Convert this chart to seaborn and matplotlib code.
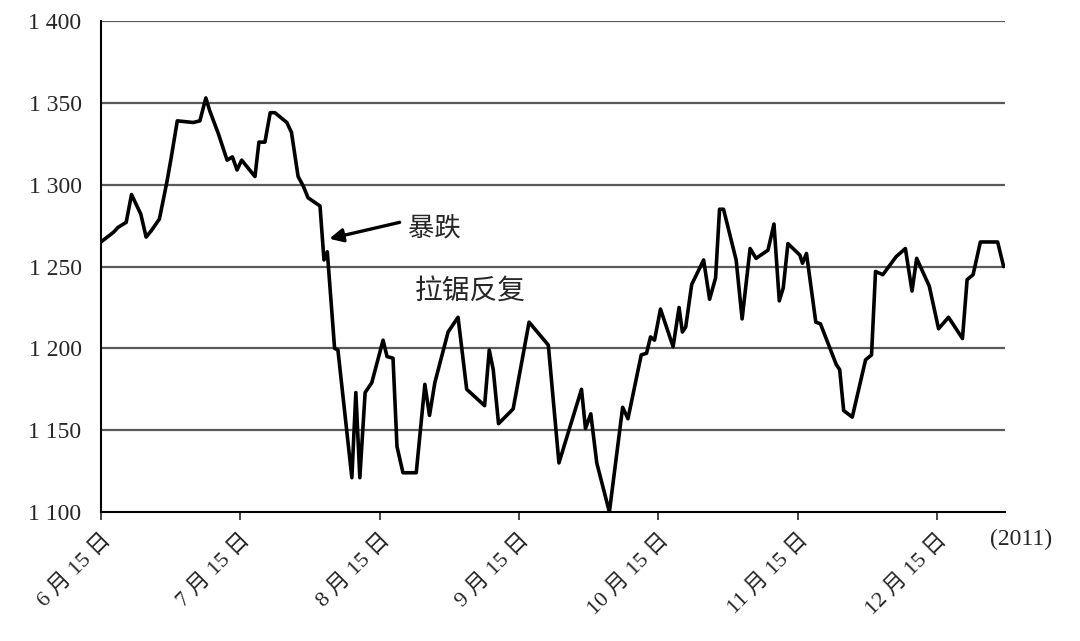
import matplotlib
matplotlib.use("Agg")
import matplotlib.pyplot as plt
import pandas as pd
import seaborn as sns

# trading-day position (0 = 6月15日, 21 days per label) and index level
days = [0, 1.9, 2.6, 3.8, 4.6, 6.0, 6.8, 7.6, 8.8, 9.9, 10.6, 11.5, 13.9, 14.9, 15.8,
        16.4, 17.7, 19.0, 19.8, 20.5, 21.2, 23.2, 23.8, 24.7, 25.5, 26.2, 28.0, 28.7,
        29.7, 30.5, 31.2, 33.0, 33.6, 34.1, 35.2, 35.7, 37.8, 38.4, 39.0, 39.8, 40.8,
        42.5, 43.1, 44.0, 44.6, 45.5, 47.5, 48.8, 49.5, 50.3, 52.3, 53.8, 55.1, 57.8,
        58.5, 59.1, 59.9, 62.1, 64.5, 67.4, 69.0, 72.4, 73.0, 73.8, 74.7, 76.6, 78.6,
        79.4, 81.4, 82.2, 82.8, 83.4, 84.3, 86.2, 87.1, 87.6, 88.1, 89.0, 90.8, 91.7,
        92.6, 93.2, 93.8, 95.7, 96.6, 97.8, 98.7, 100.5, 101.4, 102.2, 102.8, 103.5,
        105.3, 105.7, 106.3, 107.7, 108.4, 110.8, 111.3, 111.9, 113.2, 115.2, 116.1,
        116.7, 117.8, 119.8, 121.2, 122.2, 122.9, 124.8, 126.2, 127.7, 129.8, 130.5,
        131.4, 132.5, 135.1, 136.0]
level = [1265, 1271, 1274, 1277, 1294, 1282, 1268, 1272, 1279, 1301, 1317, 1339, 1338,
         1339, 1353, 1345, 1331, 1315, 1317, 1309, 1315, 1305, 1326, 1326, 1344, 1344,
         1338, 1332, 1305, 1299, 1292, 1287, 1254, 1259, 1200, 1199, 1121, 1173, 1121,
         1173, 1179, 1205, 1195, 1194, 1140, 1124, 1124, 1178, 1159, 1179, 1210, 1219,
         1175, 1165, 1199, 1187, 1154, 1163, 1216, 1202, 1130, 1175, 1151, 1160, 1130,
         1100, 1164, 1157, 1196, 1197, 1207, 1205, 1224, 1201, 1225, 1210, 1213, 1239,
         1254, 1230, 1243, 1285, 1285, 1254, 1218, 1261, 1255, 1260, 1276, 1229, 1237,
         1264, 1257, 1252, 1258, 1216, 1215, 1190, 1187, 1162, 1158, 1193, 1196, 1247,
         1245, 1256, 1261, 1235, 1255, 1238, 1212, 1219, 1206, 1242, 1245, 1265, 1265,
         1250]

tick_pos = [0, 21, 42, 63, 84, 105, 126]
tick_labels = ["6 月 15 日", "7 月 15 日", "8 月 15 日", "9 月 15 日",
               "10 月 15 日", "11 月 15 日", "12 月 15 日"]
y_ticks = [1100, 1150, 1200, 1250, 1300, 1350, 1400]

df = pd.DataFrame({"day": days, "level": level})

sns.set_style("white")
plt.rcParams["font.family"] = ["Liberation Serif", "Noto Sans CJK SC", "DejaVu Sans"]

fig = plt.figure(figsize=(10.8, 6.41), dpi=100)
ax = fig.add_axes([0.0935, 0.2012, 0.8370, 0.7660])

for y in y_ticks[1:]:
    ax.axhline(y, color="#5a5a5a", lw=1.6, zorder=1)

sns.lineplot(x="day", y="level", data=df, color="black", lw=2.6, ax=ax,
             estimator=None, sort=False, zorder=3)

ax.set_xlim(0, 136.2)
ax.set_ylim(1100, 1400)
ax.set_xticks(tick_pos)
ax.set_xticklabels(tick_labels, rotation=45, ha="right", rotation_mode="anchor")
ax.set_yticks(y_ticks)
ax.set_yticklabels([f"{v // 1000} {v % 1000:03d}" for v in y_ticks])
ax.tick_params(axis="y", direction="inout", length=8, width=1.2, labelsize=17, pad=10)
ax.tick_params(axis="x", direction="out", length=6, width=1.2, labelsize=16, pad=7,
               bottom=True)
ax.set_xlabel("")
ax.set_ylabel("")

for side in ["top", "right"]:
    ax.spines[side].set_visible(False)
for side in ["left", "bottom"]:
    ax.spines[side].set_color("black")
    ax.spines[side].set_linewidth(1.5)

# arrow pointing at the sharp drop, with its label
ax.annotate("", xy=(34.4, 1267), xytext=(45.0, 1277),
            arrowprops=dict(arrowstyle="-|>", color="black", lw=2.4,
                            mutation_scale=20, shrinkA=0, shrinkB=0))
ax.text(46.3, 1273.5, "暴跌", fontsize=19, ha="left", va="center")
ax.text(47.3, 1234, "拉锯反复", fontsize=20, ha="left", va="center")
fig.text(0.945, 0.158, "(2011)", fontsize=17, ha="center", va="center")

fig.savefig("out.png", dpi=100, facecolor="white")
